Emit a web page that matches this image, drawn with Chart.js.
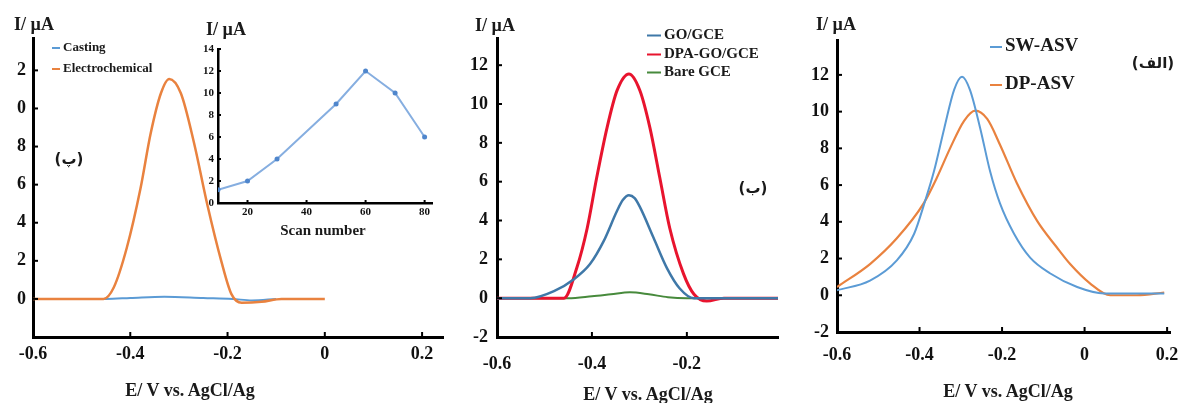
<!DOCTYPE html>
<html>
<head>
<meta charset="utf-8">
<script src="https://cdn.jsdelivr.net/npm/chart.js@4.4.1/dist/chart.umd.min.js"></script>
<style>
  body { margin: 0; background: #fff; width: 1178px; height: 403px; overflow: hidden; position: relative;
         font-family: 'Liberation Serif', 'Times New Roman', serif; color: #1a1a1a; }
  canvas { position: absolute; top: 0; }
  .c { position: absolute; font-weight: bold; white-space: nowrap; transform: translate(-50%, -50%); }
  .l { position: absolute; font-weight: bold; white-space: nowrap; transform: translateY(-50%); }
  .ar { font-family: 'DejaVu Sans', sans-serif; direction: rtl; }
  .lg { display: inline-block; vertical-align: middle; margin-right: 3px; }
</style>
</head>
<body>
<canvas id="p1" width="460" height="403" style="left:0px"></canvas>
<canvas id="inset" width="260" height="250" style="left:190px"></canvas>
<canvas id="p2" width="330" height="403" style="left:460px"></canvas>
<canvas id="p3" width="410" height="403" style="left:790px"></canvas>
<div id="txt"></div>
<script>
// panel (پ): Casting vs Electrochemical
const potElectro = [-0.6, -0.5, -0.455, -0.434, -0.407, -0.379, -0.358, -0.337, -0.32, -0.296, -0.269, -0.242, -0.213, -0.192, -0.171, -0.13, -0.089, 0];
const curElectro = [0, 0, 0, 0.6, 2.7, 5.8, 8.7, 10.8, 11.55, 10.8, 8.2, 5.0, 2.0, 0.25, -0.2, -0.15, 0, 0];
const potCasting = [-0.6, -0.45, -0.4, -0.33, -0.25, -0.19, -0.15, -0.1];
const curCasting = [0, 0, 0.05, 0.12, 0.05, 0, -0.08, 0];

// inset: peak current vs scan number
const scanNumber = [10, 20, 30, 50, 60, 70, 80];
const scanCurrent = [1.2, 2, 4, 9, 12, 10, 6];

// panel (ب): electrodes
const potGO = [-0.6, -0.53, -0.48, -0.438, -0.404, -0.375, -0.347, -0.335, -0.322, -0.31, -0.299, -0.27, -0.242, -0.215, -0.185, -0.1, 0];
const curGO = [0, 0, 0.36, 0.98, 1.76, 2.95, 4.5, 5.05, 5.3, 5.15, 4.7, 3.1, 1.55, 0.5, 0, 0, 0];
const potDPA = [-0.6, -0.5, -0.459, -0.432, -0.41, -0.39, -0.368, -0.347, -0.322, -0.299, -0.278, -0.257, -0.236, -0.207, -0.185, -0.158, -0.122, -0.05, 0];
const curDPA = [0, 0, 0, 1.55, 3.6, 6.2, 8.8, 10.7, 11.55, 10.7, 8.8, 6.2, 3.6, 1.25, 0.2, -0.15, 0, 0, 0];
const potBare = [-0.6, -0.45, -0.4, -0.36, -0.32, -0.28, -0.24, -0.2, 0];
const curBare = [0, 0, 0.1, 0.2, 0.3, 0.2, 0.05, 0, 0];

// panel (الف): SW-ASV vs DP-ASV
const potSW = [-0.6, -0.52, -0.455, -0.413, -0.387, -0.365, -0.34, -0.316, -0.297, -0.278, -0.253, -0.229, -0.205, -0.171, -0.132, -0.084, -0.018, 0.047, 0.193];
const curSW = [0.27, 0.8, 1.9, 3.35, 5.1, 6.75, 9.1, 11.2, 11.9, 11.2, 9.1, 6.75, 5.0, 3.35, 2.05, 1.2, 0.45, 0.1, 0.1];
const potDP = [-0.6, -0.52, -0.455, -0.39, -0.358, -0.326, -0.292, -0.265, -0.236, -0.205, -0.164, -0.115, -0.067, -0.035, 0.013, 0.062, 0.127, 0.193];
const curDP = [0.45, 1.7, 3.1, 5.0, 6.4, 8.0, 9.5, 10.05, 9.6, 8.2, 6.1, 4.05, 2.6, 1.7, 0.65, 0, 0, 0.15];

// tick values and labels
const xTicks1 = [-0.6, -0.4, -0.2, 0, 0.2];
const xLabels1 = ['-0.6', '-0.4', '-0.2', '0', '0.2'];
const yTicks1 = [0, 2, 4, 6, 8, 10, 12];
const yLabels1 = ['0', '2', '4', '6', '8', '0', '2'];
const xTicks2 = [-0.6, -0.4, -0.2];
const xLabels2 = ['-0.6', '-0.4', '-0.2'];
const yTicks23 = [-2, 0, 2, 4, 6, 8, 10, 12];
const yLabels23 = ['-2', '0', '2', '4', '6', '8', '10', '12'];
const insetXTicks = [20, 40, 60, 80];
const insetYTicks = [0, 2, 4, 6, 8, 10, 12, 14];

const SERIF = "'Liberation Serif', 'Times New Roman', serif";
const pts = (xs, ys) => xs.map((x, i) => ({ x: x, y: ys[i] }));

// short tick marks pointing into the plot
const inTicks = {
  id: 'inTicks',
  afterDraw(chart, args, opts) {
    const { ctx, scales: { x, y } } = chart;
    const len = opts.len || 5;
    ctx.save();
    ctx.strokeStyle = '#000';
    ctx.lineWidth = 2;
    x.ticks.forEach((t, i) => {
      const px = x.getPixelForTick(i);
      ctx.beginPath(); ctx.moveTo(px, x.top); ctx.lineTo(px, x.top - len); ctx.stroke();
    });
    y.ticks.forEach((t, i) => {
      const py = y.getPixelForTick(i);
      ctx.beginPath(); ctx.moveTo(y.right, py); ctx.lineTo(y.right + len, py); ctx.stroke();
    });
    ctx.restore();
  }
};

function makeChart(id, datasets, o) {
  const tickFont = { family: SERIF, size: o.fontSize, weight: 'bold' };
  return new Chart(document.getElementById(id), {
    type: 'line',
    data: { datasets: datasets },
    options: {
      responsive: false,
      animation: false,
      layout: { padding: { top: o.padTop, right: o.padRight, left: 0, bottom: 0 } },
      plugins: { legend: { display: false }, tooltip: { enabled: false }, inTicks: { len: o.tickLen } },
      elements: { point: { radius: 0 } },
      scales: {
        x: {
          type: 'linear', min: o.xMin, max: o.xMax,
          afterBuildTicks: s => { s.ticks = o.xTicks.map(v => ({ value: v })); },
          afterFit: s => { s.height = o.xHeight; },
          grid: { display: false, drawTicks: false, tickLength: 0 },
          border: { display: true, color: '#000', width: o.axisW },
          ticks: { autoSkip: false, maxRotation: 0, padding: o.xPad, color: '#111', font: tickFont,
                   callback: (v, i) => o.xLabels[i] }
        },
        y: {
          type: 'linear', min: o.yMin, max: o.yMax,
          afterBuildTicks: s => { s.ticks = o.yTicks.map(v => ({ value: v })); },
          afterFit: s => { s.width = o.yWidth; },
          grid: { display: false, drawTicks: false, tickLength: 0 },
          border: { display: true, color: '#000', width: o.axisW },
          ticks: { autoSkip: false, padding: o.yPad, color: '#111', font: tickFont,
                   callback: (v, i) => o.yLabels[i] }
        }
      }
    },
    plugins: [inTicks]
  });
}

const line = (label, xs, ys, color, w) => ({
  label: label, data: pts(xs, ys), borderColor: color, backgroundColor: color,
  borderWidth: w, cubicInterpolationMode: 'monotone', fill: false
});

const p1Sets = [
  line('Casting', potCasting, curCasting, '#5b9bd5', 2),
  line('Electrochemical', potElectro, curElectro, '#e9823f', 2.5)
];
const p2Sets = [
  line('GO/GCE', potGO, curGO, '#3f78a8', 2.5),
  line('DPA-GO/GCE', potDPA, curDPA, '#e8142e', 3),
  line('Bare GCE', potBare, curBare, '#478a3c', 2)
];
const p3Sets = [
  line('SW-ASV', potSW, curSW, '#5b9bd5', 2),
  line('DP-ASV', potDP, curDP, '#e9823f', 2.2)
];

makeChart('p1', p1Sets.slice().reverse(), {
  xMin: -0.6, xMax: 0.243, yMin: -2, yMax: 13.7,
  xTicks: xTicks1, xLabels: xLabels1, yTicks: yTicks1, yLabels: yLabels1,
  yWidth: 33, xHeight: 66, padTop: 38, padRight: 17,
  fontSize: 18, xPad: 7, yPad: 7, axisW: 3, tickLen: 5
});

makeChart('inset', [{
  label: 'Casting', data: pts(scanNumber, scanCurrent), borderColor: '#86aee0', backgroundColor: '#4f86cc',
  borderWidth: 2, pointRadius: 2.5, pointBorderWidth: 0, tension: 0
}], {
  xMin: 10, xMax: 82.5, yMin: 0, yMax: 14,
  xTicks: insetXTicks, xLabels: insetXTicks.map(String), yTicks: insetYTicks, yLabels: insetYTicks.map(String),
  yWidth: 28, xHeight: 47, padTop: 49, padRight: 18,
  fontSize: 11, xPad: 3, yPad: 4, axisW: 2.5, tickLen: 3
});

makeChart('p2', p2Sets, {
  xMin: -0.6, xMax: -0.008, yMin: -2, yMax: 13.4,
  xTicks: xTicks2, xLabels: xLabels2, yTicks: yTicks23, yLabels: yLabels23,
  yWidth: 37, xHeight: 66, padTop: 38, padRight: 12,
  fontSize: 18, xPad: 17, yPad: 9, axisW: 3, tickLen: 5
});

makeChart('p3', p3Sets, {
  xMin: -0.6, xMax: 0.207, yMin: -2, yMax: 13.9,
  xTicks: xTicks1, xLabels: xLabels1, yTicks: yTicks23, yLabels: yLabels23,
  yWidth: 47, xHeight: 71, padTop: 40, padRight: 30,
  fontSize: 18, xPad: 13, yPad: 8, axisW: 3, tickLen: 5
});

// texts: axis titles, legends, panel letters
const txt = document.getElementById('txt');
function put(cls, x, y, size, html) {
  const d = document.createElement('div');
  d.className = cls;
  d.style.left = x + 'px'; d.style.top = y + 'px'; d.style.fontSize = size + 'px';
  d.innerHTML = html;
  txt.appendChild(d);
}
put('c', 34, 24, 18, 'I/ µA');
put('c', 226, 29, 18, 'I/ µA');
put('c', 495, 25, 18, 'I/ µA');
put('c', 836, 24, 18, 'I/ µA');
put('c', 190, 390, 18, 'E/ V vs. AgCl/Ag');
put('c', 648, 394, 18, 'E/ V vs. AgCl/Ag');
put('c', 1008, 391, 18, 'E/ V vs. AgCl/Ag');
put('c', 323, 230, 15, 'Scan number');
put('c ar', 69, 159, 15, '(پ)');
put('c ar', 753, 188, 15, '(ب)');
put('c ar', 1153, 63, 15, '(الف)');

function legend(sets, x, ys, size, dash) {
  sets.forEach((s, i) => {
    put('l', x, ys[i], size,
      '<span class="lg" style="width:' + dash + 'px;height:2px;background:' + s.borderColor + '"></span>' + s.label);
  });
}
legend(p1Sets, 52, [47, 68], 13, 8);
legend(p2Sets, 647, [34, 53, 71], 15, 14);
legend(p3Sets, 990, [45, 83], 19, 12);
</script>
</body>
</html>
